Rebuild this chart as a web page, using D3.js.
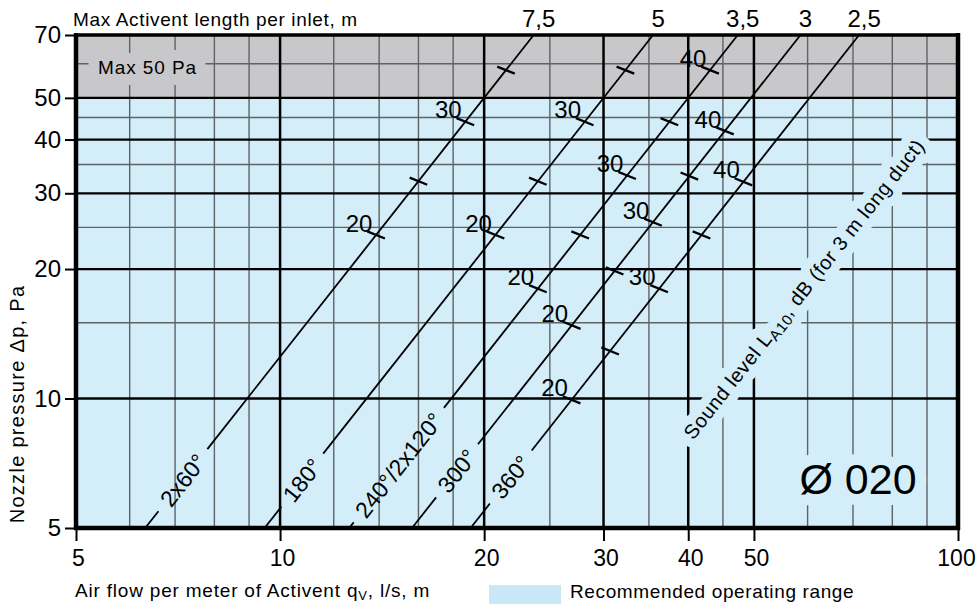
<!DOCTYPE html>
<html>
<head>
<meta charset="utf-8">
<script src="https://cdn.jsdelivr.net/npm/d3@7"></script>
<style>
  html, body { margin: 0; padding: 0; background: #fff; }
  svg { display: block; font-family: "Liberation Sans", Arial, Helvetica, sans-serif; }
</style>
</head>
<body>
<svg id="chart" width="976" height="604"></svg>
<script>
// Axis ticks and grid values (log-log diagram)
const flowTicks = [5, 10, 20, 30, 40, 50, 100];
const pressureTicks = [5, 10, 20, 30, 40, 50, 70];
const flowGridMajor = [10, 20, 30, 40, 50];
const flowGridMinor = [6, 7, 8, 9, 12, 14, 16, 18, 25, 35, 45, 60, 70, 80, 90];
const pressureGridMajor = [10, 20, 30, 40, 50];
const pressureGridMinor = [15, 25, 35, 45, 60];
const maxPressure = 50;

// Nozzle configurations: pressure follows p = 50 * (q / q50)^2
const nozzles = ["2x60°", "180°", "240°/2x120°", "300°", "360°"];
const maxLengths = ["7,5", "5", "3,5", "3", "2,5"];
const flowAt50Pa = [20, 30, 40, 49.5, 60.4];
const labelPressure = [6.46, 6.46, 7.0, 6.79, 6.57];

// Sound level marks (dB) along each nozzle line, given as nozzle pressure (Pa)
const soundLevels = [20, 25, 30, 35, 40];
const soundPressure = [
  [24, 32, 44, 58, null],
  [24, 32, 44, 58, null],
  [18, 24, 33, 44, 58],
  [14.8, 19.8, 25.7, 32.9, 41.9],
  [9.93, 12.9, 18, 24, 31.9]
];

const BLUE = "#d3edf9";
const GRAY = "#c8c8cb";

const svg = d3.select("#chart");
const x = d3.scaleLog().domain([5, 100]).range([76, 958]);
const y = d3.scaleLog().domain([5, 70]).range([528, 35]);

// Background zones
svg.append("rect").attr("width", 976).attr("height", 604).attr("fill", "#fff");
svg.append("rect")
  .attr("x", x(5)).attr("y", y(maxPressure))
  .attr("width", x(100) - x(5)).attr("height", y(5) - y(maxPressure))
  .attr("fill", BLUE);
svg.append("rect")
  .attr("x", x(5)).attr("y", y(70))
  .attr("width", x(100) - x(5)).attr("height", y(maxPressure) - y(70))
  .attr("fill", GRAY);

// Grid
const grid = svg.append("g");
grid.selectAll(".vmin").data(flowGridMinor).join("line")
  .attr("x1", d => x(d)).attr("x2", d => x(d))
  .attr("y1", y(70)).attr("y2", y(5))
  .attr("stroke", "#5d6366").attr("stroke-width", 1.4);
grid.selectAll(".hmin").data(pressureGridMinor).join("line")
  .attr("y1", d => y(d)).attr("y2", d => y(d))
  .attr("x1", x(5)).attr("x2", x(100))
  .attr("stroke", "#5d6366").attr("stroke-width", 1.4);
grid.selectAll(".vmaj").data(flowGridMajor).join("line")
  .attr("x1", d => x(d)).attr("x2", d => x(d))
  .attr("y1", y(70)).attr("y2", y(5))
  .attr("stroke", "#000").attr("stroke-width", 2.5);
grid.selectAll(".hmaj").data(pressureGridMajor).join("line")
  .attr("y1", d => y(d)).attr("y2", d => y(d))
  .attr("x1", x(5)).attr("x2", x(100))
  .attr("stroke", "#000").attr("stroke-width", 2.3);

// Text that clears the grid behind it: a haloed copy underneath, plain text on top
function knockout(attrs, bg, width, build) {
  const g = svg.append("g");
  [true, false].forEach(isHalo => {
    const t = g.append("text");
    Object.entries(attrs).forEach(([k, v]) => t.attr(k, v));
    if (isHalo) {
      t.attr("fill", bg).attr("stroke", bg).attr("stroke-width", width)
        .attr("stroke-linejoin", "round");
    } else {
      t.attr("fill", "#000");
    }
    build(t);
  });
  return g;
}

const slopePx = (y(5) - y(50)) / (x(Math.sqrt(10) * 5) - x(5)); // pixel slope of p ~ q^2
const theta = Math.atan(slopePx);
const uy = -Math.sin(theta);
const rotDeg = -theta * 180 / Math.PI;

knockout({ x: 98, y: 74, "font-size": 19, "letter-spacing": 0.9 }, GRAY, 22,
  t => t.text("Max 50 Pa"));

knockout({
  transform: `translate(804,289) rotate(${rotDeg})`,
  "text-anchor": "middle", dy: "0.35em", "font-size": 20, "letter-spacing": 0.6
}, BLUE, 18, t => {
  t.append("tspan").text("Sound level L");
  t.append("tspan").attr("font-size", 15).attr("dy", 4).text("A10");
  t.append("tspan").attr("dy", -4).text(", dB (for 3 m long duct)");
});

knockout({ x: 858, y: 494, "text-anchor": "middle", "font-size": 43 }, BLUE, 22,
  t => t.text("Ø 020"));

// Nozzle lines
const flowAt = (i, p) => flowAt50Pa[i] * Math.sqrt(p / 50);
const lineGen = d3.line().x(d => x(d[0])).y(d => y(d[1]));
const lines = svg.append("g");

nozzles.forEach((name, i) => {
  const lp = labelPressure[i];
  const cx = x(flowAt(i, lp)), cy = y(lp);
  const label = lines.append("text")
    .attr("transform", `translate(${cx},${cy}) rotate(${rotDeg})`)
    .attr("text-anchor", "middle").attr("dy", "0.36em")
    .attr("font-size", 23).text(name);
  const half = label.node().getComputedTextLength() / 2 + 10;
  const pLow = y.invert(cy - half * uy);
  const pHigh = y.invert(cy + half * uy);
  [[5, pLow], [pHigh, 70]].forEach(([a, b]) => {
    lines.append("path")
      .attr("d", lineGen([[flowAt(i, a), a], [flowAt(i, b), b]]))
      .attr("fill", "none").attr("stroke", "#000").attr("stroke-width", 1.8);
  });

  // Max length label above the top border
  svg.append("text")
    .attr("x", x(flowAt(i, 70)) + 5).attr("y", 27)
    .attr("text-anchor", "middle").attr("font-size", 24)
    .text(maxLengths[i]);

  // Sound level marks
  soundPressure[i].forEach((p, k) => {
    if (p == null) return;
    const tx = x(flowAt(i, p)), ty = y(p);
    const a = 22 * Math.PI / 180, L = 9.5;
    lines.append("line")
      .attr("x1", tx - L * Math.cos(a)).attr("y1", ty - L * Math.sin(a))
      .attr("x2", tx + L * Math.cos(a)).attr("y2", ty + L * Math.sin(a))
      .attr("stroke", "#000").attr("stroke-width", 2.3);
    if (soundLevels[k] % 10 === 0) {
      lines.append("text")
        .attr("x", tx - 17).attr("y", ty - 12).attr("dy", "0.36em")
        .attr("text-anchor", "middle").attr("font-size", 24)
        .text(soundLevels[k]);
    }
  });
});

// Frame
const frame = svg.append("g").attr("stroke", "#000");
frame.append("line").attr("x1", x(5) - 2).attr("x2", x(100) + 2)
  .attr("y1", y(70)).attr("y2", y(70)).attr("stroke-width", 3.5);
frame.append("line").attr("x1", x(5) - 2).attr("x2", x(100) + 2)
  .attr("y1", y(5)).attr("y2", y(5)).attr("stroke-width", 4.5);
frame.append("line").attr("x1", x(5)).attr("x2", x(5))
  .attr("y1", y(70) - 2).attr("y2", y(5) + 2).attr("stroke-width", 4.5);
frame.append("line").attr("x1", x(100)).attr("x2", x(100))
  .attr("y1", y(70) - 2).attr("y2", y(5) + 2).attr("stroke-width", 4.5);

// Axes
const xAxis = d3.axisBottom(x).tickValues(flowTicks).tickFormat(d3.format("d"))
  .tickSize(13).tickPadding(9);
const gx = svg.append("g").attr("transform", `translate(0,${y(5)})`).call(xAxis);
gx.select(".domain").remove();
gx.selectAll(".tick line").attr("stroke-width", 2);
gx.selectAll(".tick text").attr("font-size", 23).attr("font-family", null)
  .attr("fill", "#000").attr("dx", d => d === 100 ? -2 : 2);

const yAxis = d3.axisLeft(y).tickValues(pressureTicks).tickFormat(d3.format("d"))
  .tickSize(11).tickPadding(4);
const gy = svg.append("g").attr("transform", `translate(${x(5)},0)`).call(yAxis);
gy.select(".domain").remove();
gy.selectAll(".tick line").attr("stroke-width", 2);
gy.selectAll(".tick text").attr("font-size", 24).attr("font-family", null).attr("fill", "#000");

// Titles
svg.append("text").attr("x", 73).attr("y", 26).attr("font-size", 19)
  .attr("letter-spacing", 0.65)
  .text("Max Activent length per inlet, m");
svg.append("text")
  .attr("transform", "translate(24,404) rotate(-90)")
  .attr("text-anchor", "middle").attr("font-size", 20).attr("letter-spacing", 1.3)
  .text("Nozzle pressure Δp, Pa");

const xt = svg.append("text").attr("x", 75).attr("y", 597).attr("font-size", 19)
  .attr("letter-spacing", 0.8);
xt.append("tspan").text("Air flow per meter of Activent q");
xt.append("tspan").attr("font-size", 13).attr("dy", 3).text("V");
xt.append("tspan").attr("dy", -3).text(", l/s, m");

// Legend
svg.append("rect").attr("x", 489).attr("y", 585).attr("width", 72).attr("height", 19)
  .attr("fill", "#c8e8f8");
svg.append("text").attr("x", 570).attr("y", 598).attr("font-size", 19)
  .attr("letter-spacing", 0.63)
  .text("Recommended operating range");
</script>
</body>
</html>
